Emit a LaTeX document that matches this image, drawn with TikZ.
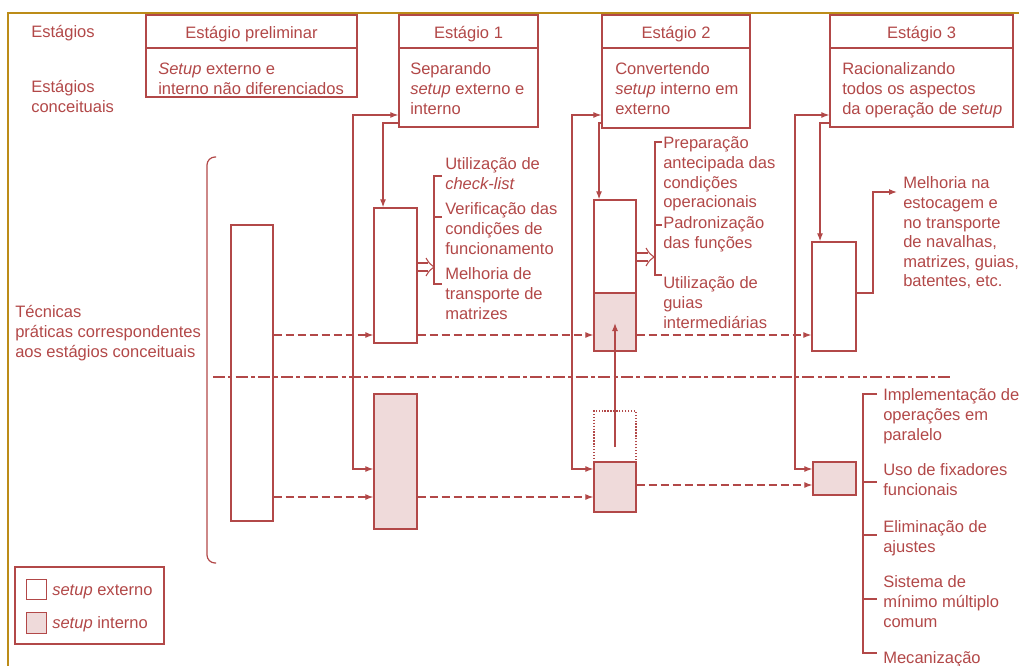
\documentclass[tikz,border=0pt]{standalone}
\usepackage{fontspec}
\setmainfont{Liberation Sans}
\usetikzlibrary{arrows.meta,fit}
\definecolor{ink}{RGB}{178,72,72}
\definecolor{inkfill}{RGB}{239,218,218}
\definecolor{frame}{RGB}{188,140,24}

\begin{document}
\begin{tikzpicture}[x=0.75pt,y=-0.75pt,
  every node/.style={text=ink},
  fs/.style={font=\fontsize{12.4}{14.7}\selectfont},
  box/.style={draw=ink, line width=1pt, inner sep=0pt, fill=white},
  ext/.style={box},
  int/.style={box, fill=inkfill},
  ghost/.style={draw=ink, line width=1pt, inner sep=0pt, dash pattern=on 1pt off 1.2pt},
  txt/.style={fs, anchor=north west, inner sep=0pt, align=left},
  title/.style={fs, inner sep=0pt, yshift=-2.2pt},
  conn/.style={draw=ink, line width=0.9pt},
  tip/.style={conn, -{Latex[length=6pt,width=4.5pt]}},
  dtip/.style={conn, {Latex[length=6pt,width=4.5pt]}-{Latex[length=6pt,width=4.5pt]}},
  dashline/.style={tip, dash pattern=on 6pt off 3pt},
  sepline/.style={conn, dash pattern=on 9pt off 2.5pt on 3pt off 2.5pt},
  hollow/.style={draw=ink, line width=0.8pt, line join=round},
]
\useasboundingbox (0,0) rectangle (1019,666);

% frame of the page
\draw[frame, line width=1.5pt] (8,666) -- (8,13) -- (1019,13);

% row labels
\node[txt] (lbst) at (31,24) {\strut Estágios};
\node[txt] (lbco) at (31,79) {\strut Estágios\\conceituais};
\node[txt] (lbte) at (15,304) {\strut Técnicas\\práticas correspondentes\\aos estágios conceituais};

% stage headers and their conceptual descriptions
\node[box, fit={(146,48) (357,97)}] (b0) {};
\node[box, fit={(146,15) (357,48)}] (h0) {};
\node[title] (h0t) at (h0.center) {Estágio preliminar};
\node[box, fit={(399,48) (538,127)}] (b1) {};
\node[box, fit={(399,15) (538,48)}] (h1) {};
\node[title] (h1t) at (h1.center) {Estágio 1};
\node[box, fit={(602,48) (750,128)}] (b2) {};
\node[box, fit={(602,15) (750,48)}] (h2) {};
\node[title] (h2t) at (h2.center) {Estágio 2};
\node[box, fit={(830,48) (1013,127)}] (b3) {};
\node[box, fit={(830,15) (1013,48)}] (h3) {};
\node[title] (h3t) at (h3.center) {Estágio 3};

\node[txt] (d0) at (158,61) {\strut\textit{Setup} externo e\\interno não diferenciados};
\node[txt] (d1) at (410,61) {\strut Separando\\\textit{setup} externo e\\interno};
\node[txt] (d2) at (615,61) {\strut Convertendo\\\textit{setup} interno em\\externo};
\node[txt] (d3) at (842,61) {\strut Racionalizando\\todos os aspectos\\da operação de \textit{setup}};

% left brace grouping the techniques
\draw[conn, rounded corners=6pt] (216,157) -- (207,157) -- (207,563) -- (216,563);

% setup bars
\node[ext, fit={(231,225) (273,521)}] (pre) {};
\node[ext, fit={(374,208) (417,343)}] (s1e) {};
\node[int, fit={(374,394) (417,529)}] (s1i) {};
\node[ext, fit={(594,200) (636,351)}] (s2) {};
\node[int, fit={(594,293) (636,351)}] (s2i) {};
\node[ghost, fit={(594,411) (636,462)}] (s2g) {};
\node[int, fit={(594,462) (636,512)}] (s2l) {};
\node[ext, fit={(812,242) (856,351)}] (s3e) {};
\node[int, fit={(813,462) (856,495)}] (s3i) {};

% stage buses
\draw[dtip] (b1.west |- 0,115) -- (353,115) -- (353,469) -- (s1i.west |- 0,469);
\draw[tip] (b1.west |- 0,123) -- (383,123) -- (s1e.north -| 383,0);
\draw[dtip] (b2.west |- 0,115) -- (572,115) -- (572,469) -- (s2l.west |- 0,469);
\draw[tip] (b2.west |- 0,123) -- (599,123) -- (s2.north -| 599,0);
\draw[dtip] (b3.west |- 0,115) -- (795,115) -- (795,469) -- (s3i.west |- 0,469);
\draw[tip] (b3.west |- 0,123) -- (820,123) -- (s3e.north -| 820,0);

% flow between stages
\draw[dashline] (pre.east |- 0,335) -- (s1e.west |- 0,335);
\draw[dashline] (s1e.east |- 0,335) -- (s2.west |- 0,335);
\draw[dashline] (s2.east |- 0,335) -- (s3e.west |- 0,335);
\draw[dashline] (pre.east |- 0,497) -- (s1i.west |- 0,497);
\draw[dashline] (s1i.east |- 0,497) -- (s2l.west |- 0,497);
\draw[dashline] (s2l.east |- 0,485) -- (s3i.west |- 0,485);

% internal setup converted to external
\draw[tip] (s2g.center |- 0,447) -- (s2i.center |- 0,323);

% separator between external and internal setup
\draw[sepline] (213,377) -- (953,377);

% stage 1 techniques
\coordinate (k1) at (434,267);
\draw[hollow] (s1e.east |- 0,263) -- (428,263);
\draw[hollow] (s1e.east |- 0,271) -- (428,271);
\draw[hollow] (426,258) .. controls (429,263) .. (k1) .. controls (429,271) .. (426,276);
\draw[conn] (442,176) -- (434,176) -- (434,284) -- (442,284);
\draw[conn] (434,217) -- (442,217);
\node[txt] (t1a) at (445,156) {\strut Utilização de\\\textit{check-list}};
\node[txt] (t1b) at (445,201) {\strut Verificação das\\condições de\\funcionamento};
\node[txt] (t1c) at (445,266) {\strut Melhoria de\\transporte de\\matrizes};

% stage 2 techniques
\coordinate (k2) at (654,257);
\draw[hollow] (s2.east |- 0,253) -- (648,253);
\draw[hollow] (s2.east |- 0,261) -- (648,261);
\draw[hollow] (646,248) .. controls (649,253) .. (k2) .. controls (649,261) .. (646,266);
\draw[conn] (662,142) -- (655,142) -- (655,275) -- (662,275);
\draw[conn] (655,225) -- (662,225);
\node[txt] (t2a) at (663,135) {\strut Preparação\\antecipada das\\condições\\operacionais};
\node[txt] (t2b) at (663,215) {\strut Padronização\\das funções};
\node[txt] (t2c) at (663,275) {\strut Utilização de\\guias\\intermediárias};

% stage 3 techniques, external setup
\coordinate (k3) at (897,192);
\draw[tip] (s3e.east |- 0,293) -- (873,293) -- (873,192) -- (k3);
\node[txt] (t3a) at (903,175) {\strut Melhoria na\\estocagem e\\no transporte\\de navalhas,\\matrizes, guias,\\batentes, etc.};

% stage 3 techniques, internal setup
\draw[conn] (877,394) -- (863,394) -- (863,653) -- (877,653);
\draw[conn] (863,482) -- (877,482);
\draw[conn] (863,535) -- (877,535);
\draw[conn] (863,599) -- (877,599);
\node[txt] (t3b) at (883,387) {\strut Implementação de\\operações em\\paralelo};
\node[txt] (t3c) at (883,462) {\strut Uso de fixadores\\funcionais};
\node[txt] (t3d) at (883,519) {\strut Eliminação de\\ajustes};
\node[txt] (t3e) at (883,574) {\strut Sistema de\\mínimo múltiplo\\comum};
\node[txt] (t3f) at (883,650) {\strut Mecanização};

% legend
\node[box, fit={(15,567) (164,644)}] (leg) {};
\node[ext, line width=0.7pt, fit={(26,579) (46,599)}] (lge) {};
\node[int, line width=0.7pt, fit={(26,612) (46,633)}] (lgi) {};
\node[txt] (lget) at (52,582) {\strut\textit{setup} externo};
\node[txt] (lgit) at (52,615) {\strut\textit{setup} interno};
\end{tikzpicture}
\end{document}
